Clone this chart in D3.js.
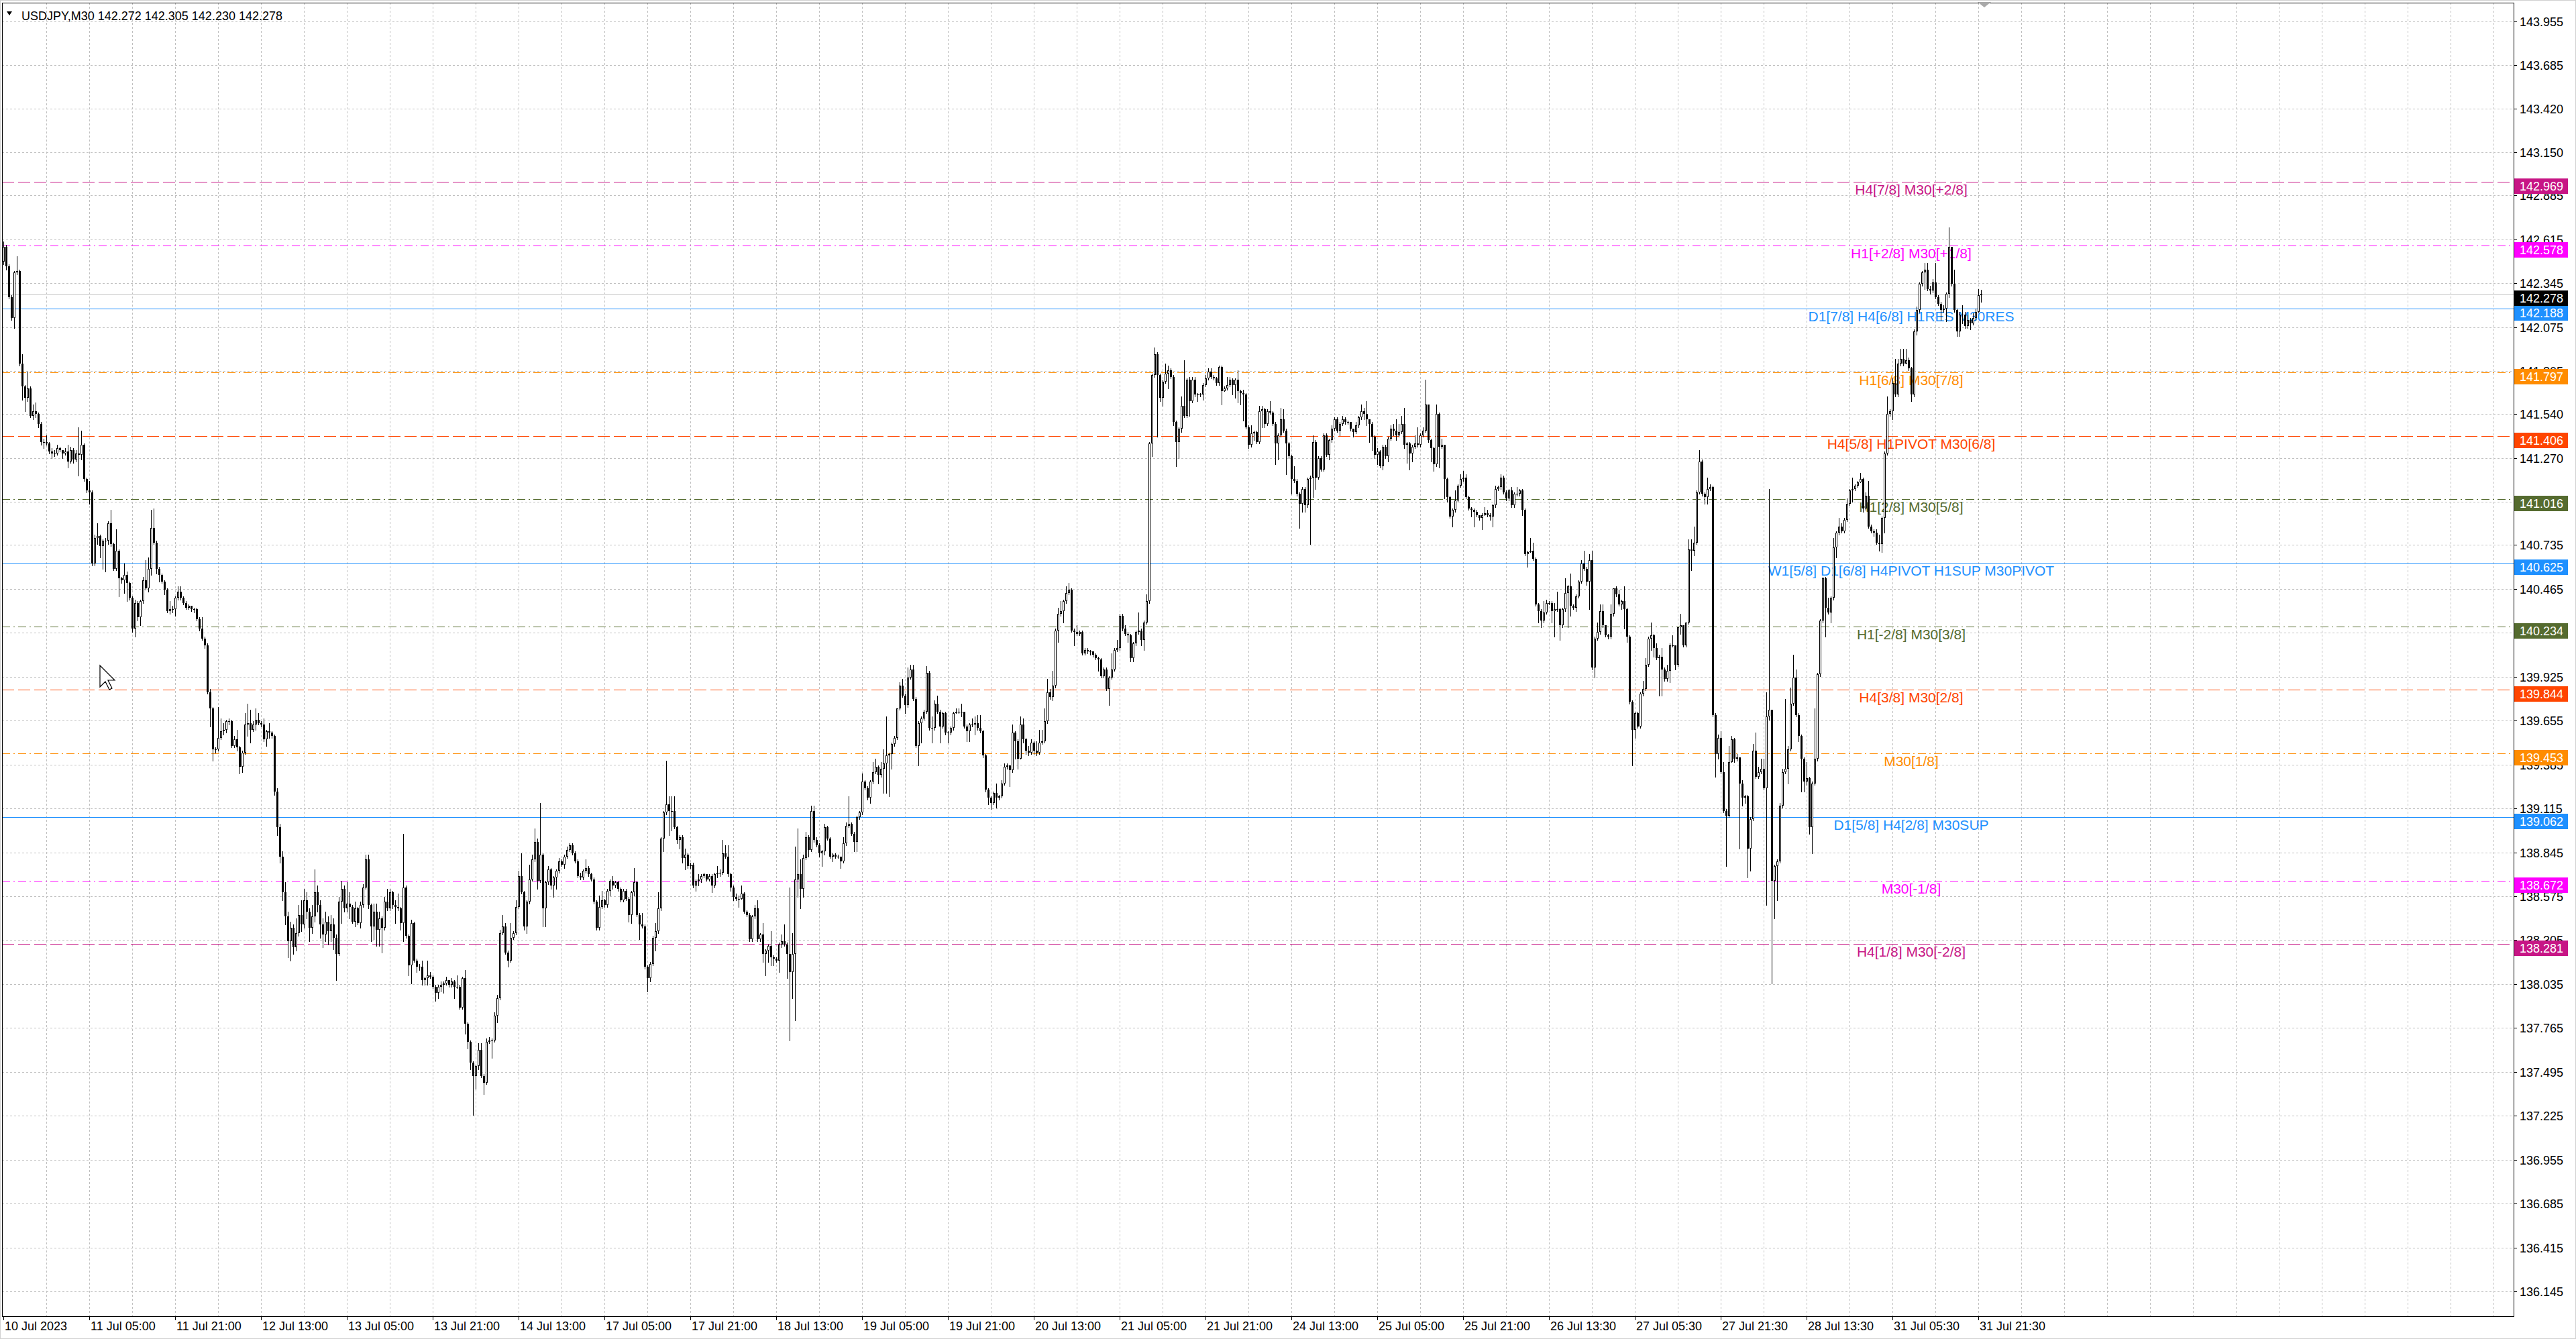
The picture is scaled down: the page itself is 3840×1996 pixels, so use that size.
<!DOCTYPE html>
<html lang="en">
<head>
<meta charset="UTF-8">
<title>USDJPY,M30</title>
<script src="https://cdn.jsdelivr.net/npm/d3@7/dist/d3.min.js"></script>
<style>
    html, body { margin: 0; padding: 0; background: #ffffff; overflow: hidden; }
    svg { display: block; }
    text { font-family: "Liberation Sans", Arial, sans-serif; }
</style>
</head>
<body>
<script>

// ---- chart data ----
const symbol = "USDJPY,M30";
const firstOpen = 142.48;   // open of the first visible bar; every other open is the previous close

const closes = [
142.57,142.45,142.26,142.13,142.41,142.42,141.85,141.71,141.64,141.70,
141.53,141.56,141.54,141.48,141.37,141.37,141.36,141.31,141.30,141.30,
141.33,141.32,141.30,141.31,141.25,141.32,141.26,141.30,141.29,141.35,
141.14,141.07,141.06,140.62,140.78,140.79,140.73,140.76,140.76,140.87,
140.74,140.59,140.70,140.53,140.52,140.55,140.50,140.41,140.22,140.38,
140.29,140.39,140.52,140.47,140.59,140.84,140.75,140.59,140.55,140.51,
140.46,140.33,140.34,140.34,140.41,140.45,140.41,140.38,140.35,140.36,
140.34,140.34,140.28,140.22,140.16,140.12,139.83,139.73,139.48,139.48,
139.55,139.59,139.60,139.65,139.65,139.50,139.54,139.49,139.37,139.46,
139.63,139.64,139.60,139.63,139.66,139.64,139.63,139.54,139.59,139.58,
139.56,139.22,139.00,138.82,138.60,138.45,138.30,138.38,138.26,138.35,
138.46,138.40,138.55,138.48,138.38,138.45,138.60,138.52,138.40,138.34,
138.42,138.36,138.40,138.32,138.22,138.54,138.62,138.50,138.53,138.51,
138.42,138.50,138.41,138.52,138.63,138.80,138.52,138.39,138.48,138.37,
138.44,138.38,138.54,138.50,138.60,138.52,138.51,138.50,138.41,138.63,
138.33,138.15,138.41,138.18,138.14,138.14,138.06,138.07,138.09,138.08,
138.02,137.98,138.02,138.03,138.04,138.06,138.03,138.05,138.02,138.02,
137.89,138.07,137.79,137.68,137.55,137.47,137.53,137.63,137.47,137.43,
137.68,137.69,137.69,137.84,137.95,138.35,138.39,138.23,138.18,138.32,
138.35,138.51,138.70,138.60,138.39,138.54,138.68,138.80,138.91,138.67,
138.83,138.50,138.66,138.74,138.64,138.69,138.73,138.79,138.77,138.82,
138.86,138.89,138.84,138.79,138.70,138.69,138.73,138.75,138.71,138.68,
138.54,138.38,138.51,138.55,138.52,138.61,138.67,138.64,138.66,138.62,
138.55,138.61,138.56,138.46,138.60,138.66,138.46,138.40,138.39,138.14,
138.07,138.16,138.32,138.36,138.50,138.93,139.09,139.14,139.10,139.10,
139.00,138.92,138.94,138.81,138.83,138.76,138.77,138.64,138.67,138.68,
138.70,138.71,138.68,138.70,138.64,138.71,138.72,138.72,138.84,138.82,
138.71,138.63,138.57,138.56,138.56,138.59,138.48,138.46,138.31,138.45,
138.50,138.31,138.34,138.22,138.24,138.27,138.20,138.19,138.18,138.28,
138.30,138.28,138.22,138.11,138.22,138.68,138.71,138.62,138.81,138.94,
138.86,139.10,138.92,138.89,138.84,138.85,139.00,138.93,138.82,138.83,
138.82,138.82,138.79,138.90,139.01,139.02,138.96,138.91,139.06,139.09,
139.28,139.24,139.18,139.28,139.34,139.37,139.32,139.36,139.39,139.44,
139.45,139.51,139.55,139.73,139.87,139.81,139.75,139.92,139.97,139.79,
139.50,139.64,139.67,139.71,139.95,139.61,139.61,139.76,139.71,139.62,
139.70,139.58,139.58,139.61,139.70,139.71,139.71,139.71,139.62,139.59,
139.63,139.63,139.64,139.61,139.59,139.44,139.23,139.18,139.15,139.21,
139.18,139.19,139.27,139.37,139.38,139.35,139.58,139.53,139.42,139.63,
139.54,139.47,139.46,139.52,139.47,139.46,139.52,139.53,139.65,139.83,
139.80,139.87,140.21,140.31,140.33,140.39,140.44,140.46,140.21,140.20,
140.19,140.20,140.07,140.09,140.08,140.08,140.06,140.04,140.03,139.93,
139.97,139.85,139.92,139.97,140.09,140.10,140.30,140.22,140.19,140.18,
140.04,140.13,140.20,140.21,140.15,140.26,140.39,141.36,141.78,141.91,
141.78,141.64,141.74,141.79,141.81,141.77,141.49,141.37,141.45,141.59,
141.53,141.75,141.62,141.75,141.66,141.66,141.66,141.72,141.76,141.80,
141.77,141.76,141.73,141.83,141.68,141.70,141.72,141.75,141.72,141.75,
141.68,141.67,141.66,141.46,141.35,141.42,141.43,141.37,141.56,141.57,
141.48,141.56,141.55,141.48,141.36,141.41,141.51,141.44,141.36,141.28,
141.14,141.13,141.05,140.99,141.08,140.98,141.14,141.15,141.37,141.15,
141.27,141.20,141.41,141.29,141.38,141.45,141.51,141.44,141.48,141.51,
141.49,141.49,141.45,141.43,141.47,141.52,141.56,141.54,141.51,141.48,
141.40,141.29,141.31,141.22,141.34,141.28,141.39,141.45,141.44,141.41,
141.43,141.48,141.35,141.36,141.30,141.34,141.36,141.35,141.41,141.44,
141.60,141.38,141.33,141.23,141.54,141.34,141.35,141.14,141.03,140.91,
140.95,141.01,141.10,141.14,141.15,141.03,140.96,140.95,140.94,140.92,
140.90,140.92,140.93,140.92,140.91,140.98,141.08,141.09,141.15,141.06,
141.02,141.07,140.98,141.05,141.05,141.07,140.95,140.68,140.69,140.70,
140.65,140.37,140.33,140.27,140.32,140.38,140.38,140.33,140.34,140.34,
140.24,140.34,140.44,140.48,140.36,140.35,140.42,140.51,140.62,140.59,
140.51,140.64,139.98,140.16,140.20,140.33,140.24,140.18,140.17,140.31,
140.47,140.43,140.37,140.39,140.34,140.17,139.77,139.60,139.70,139.62,
139.82,139.85,140.00,140.16,140.18,140.10,140.04,140.05,139.97,139.91,
139.96,140.12,140.12,140.00,140.23,140.24,140.12,140.26,140.71,140.70,
140.75,141.06,141.25,141.05,141.03,141.08,141.09,139.69,139.45,139.55,
139.34,139.10,139.07,139.40,139.54,139.42,139.43,139.27,139.18,139.19,
138.87,139.05,139.47,139.31,139.34,139.36,139.24,139.68,139.72,138.67,
138.76,138.79,139.13,139.34,139.36,139.48,139.76,139.92,139.69,139.56,
139.42,139.28,139.30,139.00,139.27,139.42,139.94,140.27,140.53,140.35,
140.32,140.41,140.72,140.81,140.85,140.82,140.89,140.99,141.07,141.08,
141.10,141.12,141.14,140.96,141.04,140.85,140.82,140.81,140.75,140.74,
140.90,141.30,141.54,141.56,141.73,141.66,141.85,141.88,141.85,141.87,
141.82,141.66,142.05,142.18,142.34,142.41,142.43,142.31,142.30,142.35,
142.26,142.22,142.18,142.19,142.28,142.57,142.34,142.18,142.05,142.15,
142.15,142.08,142.12,142.10,142.13,142.17,142.272,142.278
];

const highs = [
142.60,142.58,142.46,142.27,142.42,142.51,142.43,141.91,141.72,141.80,
141.71,141.60,141.61,141.55,141.49,141.39,141.41,141.37,141.33,141.32,
141.35,141.34,141.32,141.33,141.35,141.34,141.33,141.32,141.46,141.44,
141.36,141.15,141.13,141.07,140.80,140.87,140.80,140.77,140.78,140.88,
140.95,140.75,140.83,140.71,140.54,140.62,140.57,140.51,140.42,140.40,
140.39,140.40,140.54,140.64,140.66,140.95,140.96,140.76,140.60,140.56,
140.52,140.47,140.39,140.36,140.42,140.48,140.48,140.42,140.39,140.37,
140.36,140.35,140.35,140.29,140.29,140.17,140.13,139.85,139.74,139.49,
139.74,139.67,139.64,139.66,139.67,139.66,139.56,139.60,139.50,139.47,
139.70,139.76,139.72,139.65,139.73,139.70,139.65,139.67,139.60,139.64,
139.59,139.57,139.24,139.02,138.85,138.66,138.48,138.42,138.40,138.44,
138.52,138.55,138.62,138.60,138.50,138.52,138.74,138.64,138.55,138.44,
138.48,138.45,138.46,138.44,138.34,138.57,138.67,138.64,138.66,138.60,
138.52,138.54,138.51,138.54,138.65,138.83,138.83,138.53,138.53,138.53,
138.48,138.45,138.57,138.62,138.62,138.61,138.55,138.59,138.51,138.96,
138.64,138.34,138.43,138.42,138.19,138.16,138.18,138.08,138.18,138.11,
138.09,138.03,138.03,138.05,138.05,138.08,138.05,138.07,138.06,138.09,
138.03,138.08,138.12,137.80,137.69,137.56,137.54,137.67,137.67,137.48,
137.70,137.71,137.70,137.86,137.97,138.37,138.46,138.41,138.24,138.41,
138.36,138.55,138.73,138.84,138.61,138.55,138.77,138.83,138.99,138.93,
139.15,138.84,138.67,138.76,138.75,138.70,138.74,138.81,138.80,138.83,
138.88,138.90,138.90,138.85,138.80,138.72,138.74,138.80,138.76,138.72,
138.69,138.55,138.58,138.61,138.56,138.62,138.68,138.70,138.67,138.67,
138.63,138.62,138.62,138.57,138.61,138.75,138.67,138.47,138.47,138.40,
138.15,138.17,138.33,138.41,138.60,138.94,139.10,139.41,139.19,139.19,
139.19,139.01,138.95,138.95,138.87,138.84,138.78,138.78,138.68,138.71,
138.71,138.72,138.71,138.71,138.71,138.72,138.76,138.74,138.92,138.89,
138.89,138.72,138.64,138.59,138.58,138.64,138.60,138.49,138.47,138.46,
138.52,138.55,138.35,138.41,138.25,138.28,138.36,138.21,138.20,138.29,
138.34,138.40,138.29,138.63,138.35,138.88,138.99,138.80,138.83,138.97,
138.95,139.13,139.13,138.94,138.90,138.86,139.02,139.01,138.94,138.84,
138.84,138.83,138.82,138.94,139.03,139.19,139.03,138.97,139.07,139.10,
139.33,139.29,139.25,139.29,139.40,139.42,139.38,139.40,139.48,139.68,
139.46,139.52,139.56,139.73,139.89,139.91,139.82,139.98,140.00,140.00,
139.80,139.65,139.68,139.72,139.99,139.96,139.68,139.78,139.81,139.72,
139.71,139.71,139.59,139.62,139.71,139.73,139.73,139.76,139.71,139.63,
139.64,139.67,139.68,139.69,139.69,139.60,139.45,139.24,139.19,139.22,
139.27,139.20,139.29,139.39,139.39,139.38,139.63,139.59,139.54,139.68,
139.67,139.55,139.50,139.54,139.53,139.53,139.60,139.60,139.73,139.91,
139.85,139.96,140.22,140.35,140.39,140.40,140.48,140.50,140.47,140.22,
140.24,140.21,140.21,140.10,140.10,140.09,140.08,140.07,140.05,140.04,
139.98,139.98,139.93,140.07,140.10,140.15,140.31,140.31,140.24,140.20,
140.19,140.14,140.21,140.32,140.22,140.27,140.43,141.37,141.79,141.95,
141.92,141.79,141.75,141.85,141.84,141.82,141.78,141.50,141.46,141.65,
141.87,141.76,141.77,141.77,141.77,141.67,141.67,141.73,141.78,141.82,
141.82,141.78,141.77,141.84,141.84,141.71,141.77,141.77,141.76,141.76,
141.81,141.69,141.69,141.67,141.47,141.47,141.44,141.44,141.59,141.59,
141.58,141.57,141.62,141.56,141.49,141.42,141.58,141.57,141.45,141.37,
141.29,141.22,141.14,141.06,141.09,141.09,141.15,141.16,141.41,141.38,
141.28,141.28,141.42,141.42,141.39,141.47,141.52,141.52,141.49,141.53,
141.52,141.50,141.49,141.45,141.49,141.53,141.60,141.58,141.62,141.51,
141.49,141.41,141.33,141.32,141.35,141.35,141.40,141.47,141.48,141.51,
141.48,141.53,141.58,141.37,141.37,141.35,141.41,141.46,141.42,141.46,
141.75,141.60,141.39,141.34,141.60,141.55,141.39,141.35,141.15,141.04,
140.96,141.07,141.11,141.17,141.19,141.17,141.04,140.97,140.96,140.95,
140.92,140.93,140.97,140.95,140.93,140.99,141.10,141.10,141.17,141.16,
141.07,141.08,141.09,141.06,141.09,141.08,141.08,140.96,140.70,140.78,
140.75,140.66,140.38,140.34,140.39,140.40,140.39,140.39,140.38,140.45,
140.35,140.35,140.53,140.49,140.56,140.37,140.43,140.52,140.64,140.70,
140.60,140.68,140.70,140.17,140.26,140.37,140.37,140.24,140.19,140.37,
140.47,140.48,140.46,140.40,140.48,140.35,140.18,139.78,139.71,139.71,
139.83,139.90,140.04,140.17,140.26,140.19,140.13,140.06,140.10,139.98,
140.00,140.13,140.18,140.12,140.23,140.31,140.24,140.26,140.77,140.77,
140.85,141.07,141.32,141.26,141.06,141.15,141.11,141.10,139.70,139.57,
139.59,139.40,139.11,139.50,139.56,139.55,139.45,139.43,139.29,139.20,
139.20,139.06,139.51,139.58,139.37,139.42,139.42,139.83,141.08,139.72,
138.77,138.80,139.15,139.36,139.79,139.50,139.86,140.06,139.97,139.70,
139.57,139.43,139.40,139.31,139.28,139.73,139.95,140.28,140.54,140.54,
140.41,140.42,140.78,140.82,140.90,140.87,140.90,141.02,141.08,141.15,
141.11,141.13,141.18,141.15,141.06,141.13,140.86,140.83,140.83,140.80,
140.91,141.31,141.65,141.57,141.76,141.88,141.88,141.94,141.94,141.94,
141.89,141.83,142.06,142.20,142.35,142.42,142.47,142.47,142.33,142.37,
142.47,142.27,142.23,142.21,142.29,142.69,142.57,142.43,142.19,142.17,
142.21,142.17,142.15,142.13,142.16,142.19,142.31,142.305
];

const lows = [
142.46,142.43,142.25,142.12,142.07,142.40,141.84,141.63,141.56,141.62,
141.52,141.51,141.52,141.46,141.35,141.33,141.35,141.30,141.27,141.28,
141.29,141.31,141.27,141.29,141.21,141.24,141.24,141.25,141.16,141.26,
141.13,141.06,140.99,140.61,140.61,140.74,140.66,140.59,140.57,140.74,
140.73,140.58,140.58,140.42,140.50,140.44,140.39,140.40,140.20,140.17,
140.27,140.24,140.38,140.46,140.45,140.55,140.74,140.56,140.51,140.50,
140.43,140.32,140.31,140.32,140.30,140.40,140.40,140.37,140.34,140.34,
140.33,140.32,140.27,140.21,140.15,140.10,139.82,139.62,139.41,139.46,
139.47,139.54,139.57,139.58,139.63,139.49,139.49,139.47,139.33,139.34,
139.45,139.56,139.52,139.59,139.60,139.63,139.62,139.53,139.50,139.55,
139.55,139.20,138.95,138.78,138.55,138.40,138.20,138.18,138.22,138.24,
138.33,138.36,138.38,138.44,138.30,138.35,138.42,138.48,138.32,138.26,
138.30,138.28,138.30,138.25,138.06,138.21,138.41,138.48,138.48,138.44,
138.41,138.39,138.40,138.38,138.51,138.62,138.50,138.30,138.31,138.27,
138.27,138.23,138.37,138.49,138.49,138.50,138.41,138.49,138.37,138.30,
138.32,138.09,138.04,138.17,138.11,138.12,138.03,138.03,138.03,138.07,
138.01,137.93,137.95,137.99,137.98,138.03,138.02,138.02,137.95,138.01,
137.88,137.88,137.73,137.64,137.51,137.23,137.39,137.51,137.46,137.36,
137.42,137.67,137.58,137.68,137.80,137.94,138.34,138.22,138.14,138.17,
138.31,138.34,138.50,138.59,138.37,138.35,138.53,138.67,138.79,138.62,
138.66,138.39,138.39,138.65,138.62,138.57,138.62,138.72,138.76,138.75,
138.81,138.85,138.83,138.78,138.69,138.68,138.68,138.72,138.70,138.67,
138.53,138.37,138.37,138.50,138.51,138.51,138.58,138.62,138.63,138.61,
138.54,138.54,138.55,138.42,138.41,138.58,138.45,138.31,138.38,138.13,
137.99,138.05,138.15,138.24,138.35,138.49,138.85,139.08,138.95,138.98,
138.99,138.90,138.87,138.78,138.74,138.75,138.75,138.63,138.61,138.64,
138.66,138.69,138.67,138.67,138.60,138.63,138.69,138.70,138.71,138.81,
138.70,138.61,138.55,138.55,138.51,138.56,138.47,138.45,138.30,138.30,
138.44,138.30,138.30,138.17,138.09,138.17,138.15,138.15,138.17,138.11,
138.26,138.27,138.07,137.69,137.95,137.81,138.57,138.50,138.57,138.80,
138.82,138.85,138.91,138.88,138.82,138.76,138.83,138.92,138.81,138.79,
138.81,138.81,138.75,138.78,138.89,139.00,138.95,138.85,138.85,139.05,
139.08,139.23,139.17,139.15,139.27,139.33,139.27,139.31,139.21,139.21,
139.19,139.36,139.50,139.54,139.72,139.80,139.70,139.74,139.91,139.78,
139.49,139.38,139.52,139.66,139.70,139.60,139.52,139.60,139.70,139.52,
139.61,139.57,139.52,139.57,139.60,139.70,139.70,139.68,139.61,139.53,
139.53,139.62,139.57,139.60,139.58,139.43,139.22,139.14,139.11,139.14,
139.12,139.17,139.18,139.26,139.36,139.25,139.34,139.42,139.36,139.42,
139.52,139.45,139.44,139.45,139.45,139.44,139.45,139.51,139.52,139.64,
139.79,139.78,139.86,140.14,140.30,140.26,140.38,140.43,140.20,140.12,
140.18,140.18,140.06,140.06,140.07,140.06,140.05,140.03,139.96,139.92,
139.92,139.84,139.75,139.91,139.96,140.08,140.09,140.21,140.18,140.14,
140.02,140.02,140.12,140.19,140.12,140.09,140.25,140.38,141.28,141.77,
141.40,141.62,141.59,141.73,141.70,141.76,141.47,141.22,141.27,141.43,
141.52,141.52,141.53,141.61,141.65,141.62,141.65,141.63,141.71,141.75,
141.76,141.75,141.72,141.72,141.60,141.68,141.69,141.71,141.66,141.64,
141.61,141.60,141.50,141.45,141.33,141.34,141.38,141.36,141.36,141.46,
141.46,141.47,141.54,141.47,141.23,141.26,141.40,141.43,141.17,141.27,
141.05,141.12,141.04,140.84,140.94,140.94,140.97,140.74,141.03,141.08,
141.14,141.19,141.19,141.28,141.26,141.37,141.44,141.43,141.41,141.47,
141.48,141.48,141.44,141.40,141.42,141.46,141.51,141.51,141.47,141.37,
141.32,141.27,141.23,141.21,141.20,141.27,141.25,141.38,141.41,141.38,
141.40,141.42,141.33,141.24,141.20,141.25,141.33,141.34,141.34,141.40,
141.43,141.37,141.25,141.19,141.22,141.21,141.33,141.02,141.00,140.90,
140.85,140.94,141.00,141.09,141.13,141.02,140.95,140.91,140.85,140.91,
140.89,140.83,140.92,140.91,140.89,140.85,140.97,141.07,141.08,141.05,
141.01,141.01,140.97,140.97,141.04,141.04,140.92,140.67,140.60,140.69,
140.64,140.36,140.26,140.23,140.26,140.31,140.37,140.26,140.17,140.33,
140.15,140.23,140.33,140.23,140.30,140.34,140.33,140.41,140.50,140.58,
140.49,140.34,139.97,139.92,140.15,140.19,140.23,140.17,140.16,140.16,
140.30,140.42,140.36,140.34,140.22,140.14,139.76,139.38,139.55,139.61,
139.61,139.81,139.84,139.99,140.09,140.05,140.03,139.81,139.81,139.90,
139.90,139.89,140.11,139.97,139.99,140.19,140.11,140.11,140.25,140.58,
140.67,140.74,141.05,141.04,140.99,140.99,141.07,139.68,139.31,139.42,
139.33,139.09,138.76,139.06,139.40,139.40,139.41,138.87,139.13,139.15,
138.69,138.73,139.04,139.30,139.30,139.33,139.23,138.52,139.66,138.04,
138.44,138.55,138.78,139.12,139.33,139.27,139.47,139.75,139.68,139.53,
139.22,139.22,139.26,138.96,138.84,139.26,139.41,139.93,140.26,140.17,
140.31,140.26,140.40,140.66,140.80,140.81,140.81,140.88,140.98,141.00,
141.07,141.09,141.12,140.94,140.95,140.84,140.81,140.79,140.74,140.70,
140.69,140.81,141.29,141.53,141.51,141.65,141.65,141.84,141.84,141.85,
141.81,141.62,141.65,142.03,142.17,142.33,142.31,142.30,142.28,142.29,
142.25,142.21,142.12,142.17,142.11,142.26,142.33,142.17,142.02,142.02,
142.10,142.07,142.07,142.06,142.09,142.12,142.19,142.230
];

// time axis labels, one every 32 bars (16 hours)
const timeLabels = [
    "10 Jul 2023", "11 Jul 05:00", "11 Jul 21:00", "12 Jul 13:00", "13 Jul 05:00", "13 Jul 21:00",
    "14 Jul 13:00", "17 Jul 05:00", "17 Jul 21:00", "18 Jul 13:00", "19 Jul 05:00", "19 Jul 21:00",
    "20 Jul 13:00", "21 Jul 05:00", "21 Jul 21:00", "24 Jul 13:00", "25 Jul 05:00", "25 Jul 21:00",
    "26 Jul 13:30", "27 Jul 05:30", "27 Jul 21:30", "28 Jul 13:30", "31 Jul 05:30", "31 Jul 21:30"
];

// price scale labels
const priceTicks = [
    143.955, 143.685, 143.420, 143.150, 142.885, 142.615, 142.345, 142.075, 141.805, 141.540,
    141.270, 141.000, 140.735, 140.465, 140.195, 139.925, 139.655, 139.385, 139.115, 138.845,
    138.575, 138.305, 138.035, 137.765, 137.495, 137.225, 136.955, 136.685, 136.415, 136.145
];

// Murrey math levels drawn by the indicator
const levelPrices = [142.969, 142.578, 142.188, 141.797, 141.406, 141.016, 140.625,
                     140.234, 139.844, 139.453, 139.062, 138.672, 138.281];
const levelNames = [
    "H4[7/8] M30[+2/8]",
    "H1[+2/8] M30[+1/8]",
    "D1[7/8] H4[6/8] H1RES M30RES",
    "H1[6/8] M30[7/8]",
    "H4[5/8] H1PIVOT M30[6/8]",
    "H1[2/8] M30[5/8]",
    "W1[5/8] D1[6/8] H4PIVOT H1SUP M30PIVOT",
    "H1[-2/8] M30[3/8]",
    "H4[3/8] M30[2/8]",
    "M30[1/8]",
    "D1[5/8] H4[2/8] M30SUP",
    "M30[-1/8]",
    "H4[1/8] M30[-2/8]"
];

// ---- styling / layout ----
const DASH = "18,6", DASHDOT = "12,5,2,5";
const levelStyles = [
    {color: "#C71585", dash: DASH},
    {color: "#FF00FF", dash: DASHDOT},
    {color: "#1E90FF", dash: null},
    {color: "#FF8C00", dash: DASHDOT},
    {color: "#FF4500", dash: DASH},
    {color: "#556B2F", dash: DASHDOT},
    {color: "#1E90FF", dash: null},
    {color: "#556B2F", dash: DASHDOT},
    {color: "#FF4500", dash: DASH},
    {color: "#FF8C00", dash: DASHDOT},
    {color: "#1E90FF", dash: null},
    {color: "#FF00FF", dash: DASHDOT},
    {color: "#C71585", dash: DASH}
];

const width = 3840, height = 1996;
const plot = {left: 3, top: 4, right: 3747, bottom: 1962};
const labelEvery = 32, gridEvery = 16, labelBar = 711;

const svg = d3.select("body").append("svg")
    .attr("width", width)
    .attr("height", height);

svg.append("rect").attr("width", width).attr("height", height).attr("fill", "#ffffff");

// bar i sits 4px after bar i-1
const x = d3.scaleLinear().domain([0, 100]).range([5, 405]);
const y = d3.scaleLinear().domain([136.145, 143.955]).range([1925, 32]);

const bars = closes.map((c, i) => {
    const o = i === 0 ? firstOpen : closes[i - 1];
    return {i, o, c, h: Math.max(highs[i], o, c), l: Math.min(lows[i], o, c)};
});

const py = v => Math.round(y(v)) + 0.5;
const px = i => Math.round(x(i)) + 0.5;

// grid
const grid = svg.append("g").attr("stroke", "#c0c0c0").attr("stroke-dasharray", "3,3")
    .attr("shape-rendering", "crispEdges");
grid.selectAll("line.h").data(priceTicks).enter().append("line")
    .attr("x1", plot.left).attr("x2", plot.right)
    .attr("y1", d => py(d)).attr("y2", d => py(d));
const vBars = d3.range(gridEvery, closes.length + 300, gridEvery).filter(b => x(b) < plot.right - 4);
grid.selectAll("line.v").data(vBars).enter().append("line")
    .attr("x1", d => px(d)).attr("x2", d => px(d))
    .attr("y1", plot.top).attr("y2", plot.bottom);

// level lines and their names
const levels = levelPrices.map((p, k) => ({p, name: levelNames[k], ...levelStyles[k]}));
svg.append("g").attr("shape-rendering", "crispEdges")
    .selectAll("line").data(levels).enter().append("line")
    .attr("x1", plot.left).attr("x2", plot.right)
    .attr("y1", d => py(d.p)).attr("y2", d => py(d.p))
    .attr("stroke", d => d.color)
    .attr("stroke-dasharray", d => d.dash);

svg.append("g").selectAll("text").data(levels).enter().append("text")
    .attr("x", x(labelBar))
    .attr("y", d => Math.round(y(d.p)) + 19)
    .attr("text-anchor", "middle")
    .attr("fill", d => d.color)
    .style("font-size", "21px")
    .text(d => d.name);

// bid line
const last = bars[bars.length - 1];
svg.append("line")
    .attr("x1", plot.left).attr("x2", plot.right)
    .attr("y1", py(last.c)).attr("y2", py(last.c))
    .attr("stroke", "#c0c0c0").attr("shape-rendering", "crispEdges");

// candles
const cg = svg.append("g").attr("shape-rendering", "crispEdges");
cg.selectAll("line").data(bars).enter().append("line")
    .attr("x1", d => px(d.i)).attr("x2", d => px(d.i))
    .attr("y1", d => Math.round(y(d.h))).attr("y2", d => Math.round(y(d.l)) + 1)
    .attr("stroke", "#000000");

cg.selectAll("rect").data(bars).enter().append("rect")
    .each(function (d) {
        const top = Math.round(y(Math.max(d.o, d.c)));
        const bot = Math.round(y(Math.min(d.o, d.c)));
        const h = Math.max(1, bot - top);
        const xl = Math.round(x(d.i)) - 1;
        const r = d3.select(this);
        if (d.c > d.o && h > 2) {
            r.attr("x", xl + 0.5).attr("y", top + 0.5).attr("width", 2).attr("height", h - 1)
             .attr("fill", "#ffffff").attr("stroke", "#000000");
        } else {
            r.attr("x", xl).attr("y", top).attr("width", 3).attr("height", h)
             .attr("fill", "#000000");
        }
    });

// plot frame
svg.append("rect")
    .attr("x", plot.left + 0.5).attr("y", plot.top + 0.5)
    .attr("width", plot.right - plot.left).attr("height", plot.bottom - plot.top)
    .attr("fill", "none").attr("stroke", "#000000").attr("shape-rendering", "crispEdges");

// price scale
const axisR = svg.append("g");
axisR.selectAll("line").data(priceTicks).enter().append("line")
    .attr("x1", plot.right).attr("x2", plot.right + 5)
    .attr("y1", d => py(d)).attr("y2", d => py(d))
    .attr("stroke", "#000000").attr("shape-rendering", "crispEdges");
axisR.selectAll("text").data(priceTicks).enter().append("text")
    .attr("x", plot.right + 9)
    .attr("y", d => Math.round(y(d)) + 7)
    .style("font-size", "18px")
    .attr("fill", "#000000")
    .text(d => d.toFixed(3));

// price boxes for the levels and the bid
const boxes = levels.map(d => ({p: d.p, color: d.color}))
    .concat([{p: last.c, color: "#000000"}]);
const bg = svg.append("g").selectAll("g").data(boxes).enter().append("g")
    .attr("transform", d => `translate(${plot.right + 1},${Math.round(y(d.p)) - 5})`);
bg.append("rect").attr("width", 80).attr("height", 23).attr("fill", d => d.color);
bg.append("text").attr("x", 8).attr("y", 18)
    .style("font-size", "18px").attr("fill", "#ffffff")
    .text(d => d.p.toFixed(3));

// time scale
const tBars = timeLabels.map((t, k) => ({bar: k * labelEvery, t}));
const axisB = svg.append("g");
axisB.selectAll("line").data(tBars).enter().append("line")
    .attr("x1", d => px(d.bar)).attr("x2", d => px(d.bar))
    .attr("y1", plot.bottom).attr("y2", plot.bottom + 6)
    .attr("stroke", "#000000").attr("shape-rendering", "crispEdges");
axisB.selectAll("text").data(tBars).enter().append("text")
    .attr("x", d => Math.round(x(d.bar)) + 2)
    .attr("y", plot.bottom + 21)
    .style("font-size", "18px")
    .attr("fill", "#000000")
    .text(d => d.t);

// header
svg.append("path").attr("d", "M10,17 L18,17 L14,23 Z").attr("fill", "#000000");
const cur = bars[bars.length - 1];
svg.append("text").attr("x", 32).attr("y", 30)
    .style("font-size", "18px").attr("fill", "#000000")
    .text(`${symbol}  ${[cur.o, cur.h, cur.l, cur.c].map(v => v.toFixed(3)).join(" ")}`);

// chart shift marker and mouse pointer
svg.append("path").attr("d", "M2948,3 L2968,3 L2958,11 Z").attr("fill", "#a8a8a8");
svg.append("path")
    .attr("d", "M149,992 L149,1024 L157,1016 L163,1028 L167,1026 L161,1014 L171,1014 Z")
    .attr("fill", "#ffffff").attr("stroke", "#000000").attr("stroke-width", 1.2);

// window frame
svg.append("rect").attr("x", 0.5).attr("y", 0.5).attr("width", width - 1).attr("height", height - 1)
    .attr("fill", "none").attr("stroke", "#d0d0d0");

</script>
</body>
</html>
